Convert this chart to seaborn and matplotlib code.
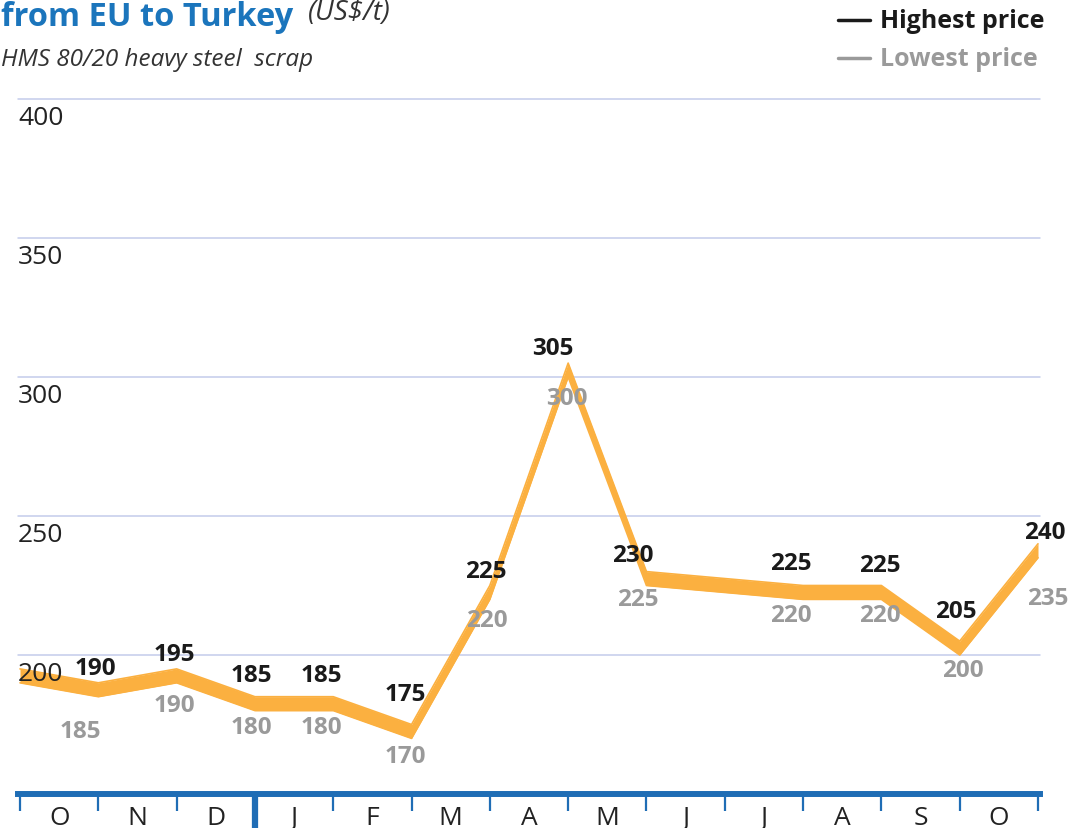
import matplotlib
matplotlib.use("Agg")
import matplotlib.pyplot as plt
import matplotlib.transforms as mtransforms
from matplotlib.lines import Line2D
import seaborn as sns
import pandas as pd

# Monthly scrap price band (US$/t), month-boundary positions on the x axis
positions = [0, 1, 2, 3, 4, 5, 6, 7, 8, 10, 11, 12, 13]
highest = [195, 190, 195, 185, 185, 175, 225, 305, 230, 225, 225, 205, 240]
lowest = [190, 185, 190, 180, 180, 170, 220, 300, 225, 220, 220, 200, 235]
show_label = [False] + [True] * 12
months = ["O", "N", "D", "J", "F", "M", "A", "M", "J", "J", "A", "S", "O"]
y_ticks = [200, 250, 300, 350, 400]

# label nudges in pixels (dx, dy) for the high / low value tags
high_offsets = [(0, 0), (-3, 15), (-2, 15), (-4, 22), (-12, 22), (-6, 30), (-4, 14),
                (-15, 15), (-14, 17), (-12, 22), (-2, 20), (-4, 30), (7, 12)]
low_offsets = [(0, 0), (-18, -34), (-2, -22), (-4, -16), (-12, -16), (-6, -18), (-3, -21),
               (-1, -21), (-9, -14), (-12, -16), (-2, -16), (3, -15), (10, -40)]

ORANGE = "#fbb040"
BLUE = "#1f6db5"
GRID = "#c3cbeb"
GRAY = "#9a9a9a"
DARK = "#1a1a1a"

sns.set_theme(style="white")
plt.rcParams["font.family"] = ["Open Sans", "DejaVu Sans"]

df = pd.DataFrame({"pos": positions, "high": highest, "low": lowest})

fig = plt.figure(figsize=(10.74, 8.29), dpi=100)
W, H = 1074, 829
ax = fig.add_axes([18 / W, 34 / H, 1022 / W, 695 / H])
px = 1018 / 13
ax.set_xlim(-2 / px, 13 + 2 / px)
ax.set_ylim(150, 400)

# horizontal gridlines with their labels sitting just underneath
for v in y_ticks:
    ax.axhline(v, color=GRID, lw=1.1, zorder=0, clip_on=False)
    ax.annotate(str(v), xy=(0, v), xycoords=("axes fraction", "data"),
                xytext=(0, -6), textcoords="offset pixels",
                ha="left", va="top", fontsize=19, color="#222222")

# price band
ax.fill_between(df["pos"], df["low"], df["high"], color=ORANGE, lw=0, zorder=2)
sns.lineplot(data=df, x="pos", y="high", ax=ax, color=ORANGE, lw=1.2, zorder=2)
sns.lineplot(data=df, x="pos", y="low", ax=ax, color=ORANGE, lw=1.2, zorder=2)

# value tags
for p, hi, lo, show, ho, lo_off in zip(positions, highest, lowest, show_label,
                                       high_offsets, low_offsets):
    if not show:
        continue
    ax.annotate(str(hi), xy=(p, hi), xytext=ho, textcoords="offset pixels",
                ha="center", va="center", fontsize=17.5, fontweight="bold",
                color=DARK, zorder=5)
    ax.annotate(str(lo), xy=(p, lo), xytext=lo_off, textcoords="offset pixels",
                ha="center", va="center", fontsize=17.5, fontweight="bold",
                color=GRAY, zorder=5)

# x axis: thick blue bar with month dividers
for s in ["top", "left", "right"]:
    ax.spines[s].set_visible(False)
ax.spines["bottom"].set_color(BLUE)
ax.spines["bottom"].set_linewidth(4.3)
ax.set_yticks([])
ax.set_xticks(range(0, 14))
ax.set_xticklabels([])
ax.tick_params(axis="x", which="major", direction="out", length=12, width=1.6,
               color=BLUE, bottom=True)
ax.set_xticks([i + 0.5 for i in range(13)], minor=True)
ax.set_xticklabels(months, minor=True, fontsize=19, color="#222222")
ax.tick_params(axis="x", which="minor", length=0, pad=8)
ax.set_xlabel("")
ax.set_ylabel("")

# year divider
trans = mtransforms.blended_transform_factory(ax.transData, ax.transAxes)
ax.plot([3, 3], [0, -0.06], transform=trans, color=BLUE, lw=4.5,
        clip_on=False, solid_capstyle="butt")

# title, subtitle
fig.text(1 / W, 1 - 1 / H, "from EU to Turkey", fontsize=23.5, fontweight="bold",
         color="#1b75bc", ha="left", va="top")
fig.text(308 / W, 1 - 13 / H, "(US$/t)", fontsize=20, style="italic",
         color="#333333", ha="left", va="center")
fig.text(1 / W, 1 - 60 / H, "HMS 80/20 heavy steel  scrap", fontsize=17.5,
         style="italic", color="#333333", ha="left", va="center")

# legend
for yy, lab, col in [(21, "Highest price", DARK), (59, "Lowest price", GRAY)]:
    fig.add_artist(Line2D([838 / W, 870 / W], [1 - yy / H, 1 - yy / H],
                          color=col, lw=2.5, transform=fig.transFigure))
    fig.text(880 / W, 1 - yy / H, lab, fontsize=18, fontweight="bold",
             color=col, ha="left", va="center")

fig.savefig("out.png", dpi=100)
